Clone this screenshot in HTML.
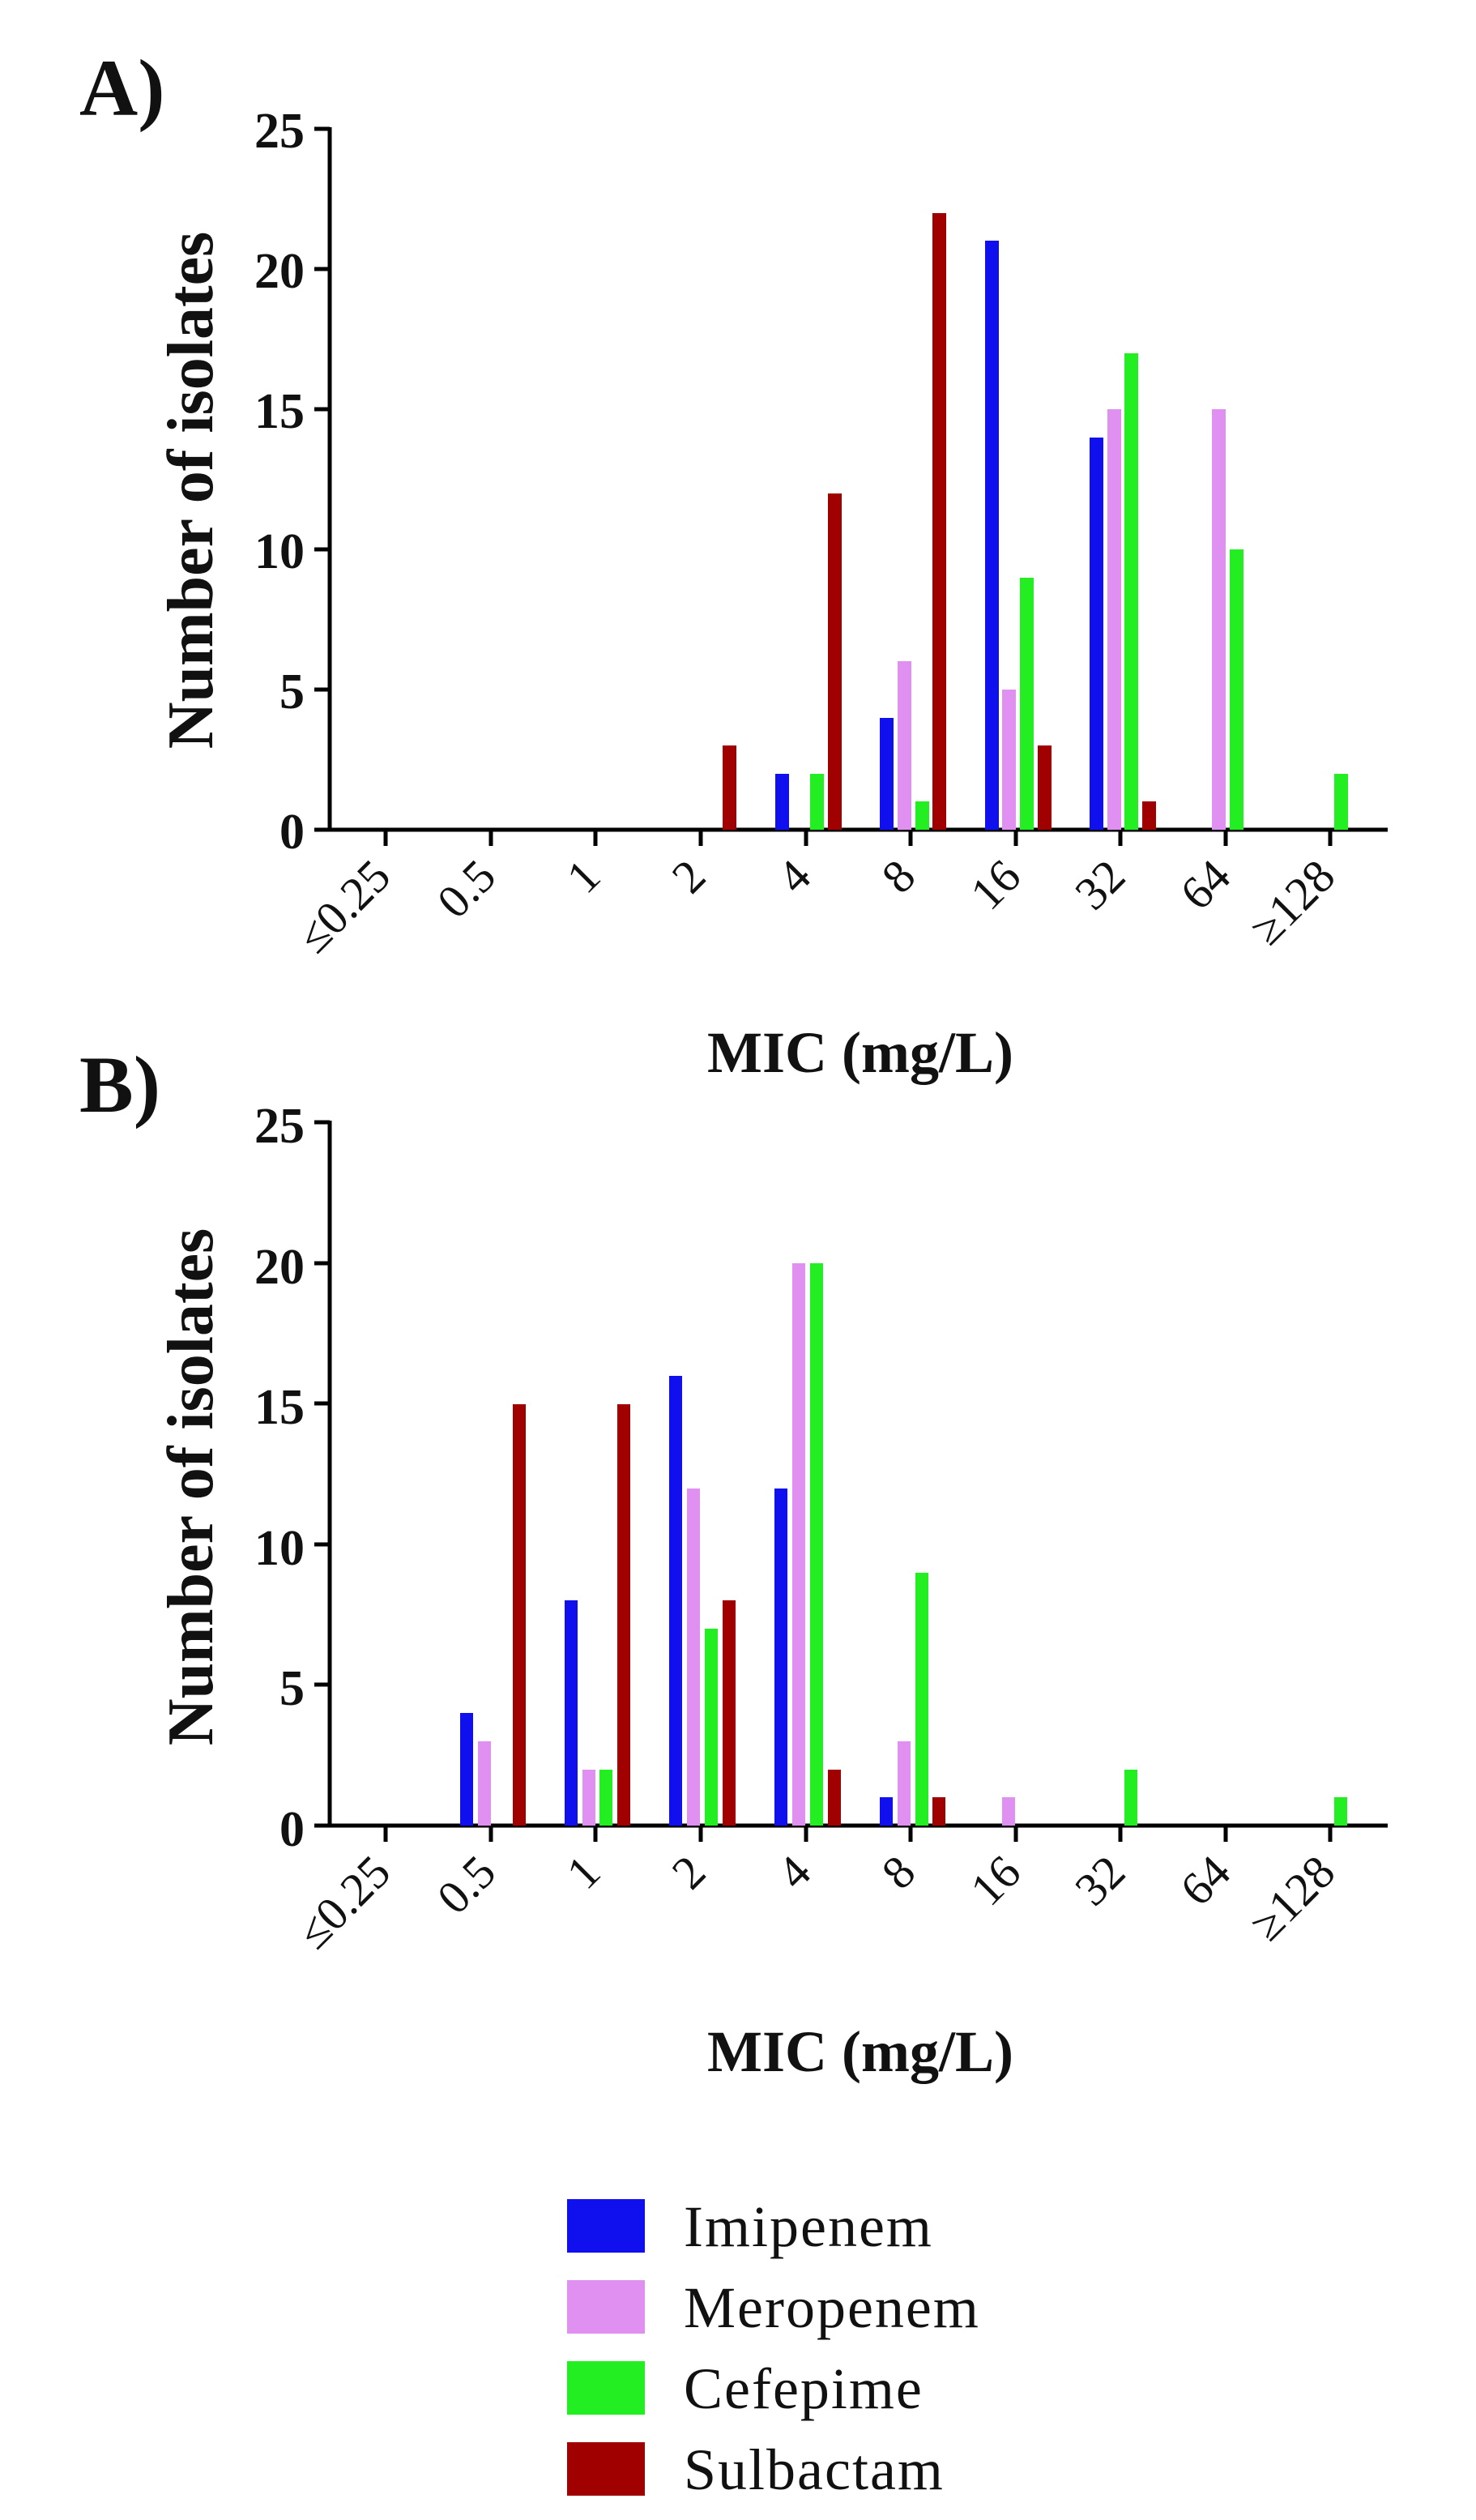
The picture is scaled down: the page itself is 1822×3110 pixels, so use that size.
<!DOCTYPE html>
<html><head><meta charset="utf-8"><style>
html,body{margin:0;padding:0;background:#fff;}
svg{display:block;}
text{font-family:"Liberation Serif",serif;fill:#111;}
</style></head><body>
<svg width="1822" height="3110" viewBox="0 0 1822 3110" xmlns="http://www.w3.org/2000/svg">
<g id="A">
<text x="98" y="142" font-size="100" font-weight="bold">A)</text>
<text transform="translate(262,605) rotate(-90)" text-anchor="middle" font-size="80" font-weight="bold">Number of isolates</text>
<g font-size="62" font-weight="bold" text-anchor="end">
<text x="376" y="182">25</text><text x="376" y="355">20</text><text x="376" y="528">15</text><text x="376" y="701">10</text><text x="376" y="874">5</text><text x="376" y="1047">0</text>
</g>
<g stroke="#000" stroke-width="5">
<line x1="407" y1="157" x2="407" y2="1026"/>
<line x1="388" y1="159" x2="407" y2="159"/><line x1="388" y1="332" x2="407" y2="332"/><line x1="388" y1="505" x2="407" y2="505"/><line x1="388" y1="678" x2="407" y2="678"/><line x1="388" y1="851" x2="407" y2="851"/><line x1="388" y1="1024" x2="407" y2="1024"/>
<line x1="405" y1="1024" x2="1713" y2="1024"/>
<line x1="476" y1="1024" x2="476" y2="1044"/><line x1="606" y1="1024" x2="606" y2="1044"/><line x1="735" y1="1024" x2="735" y2="1044"/><line x1="865" y1="1024" x2="865" y2="1044"/><line x1="995" y1="1024" x2="995" y2="1044"/><line x1="1124" y1="1024" x2="1124" y2="1044"/><line x1="1254" y1="1024" x2="1254" y2="1044"/><line x1="1383" y1="1024" x2="1383" y2="1044"/><line x1="1513" y1="1024" x2="1513" y2="1044"/><line x1="1642" y1="1024" x2="1642" y2="1044"/>
</g>
<g font-size="58" text-anchor="end">
<text transform="translate(485,1085) rotate(-45)">≤0.25</text>
<text transform="translate(615,1085) rotate(-45)">0.5</text>
<text transform="translate(744,1085) rotate(-45)">1</text>
<text transform="translate(874,1085) rotate(-45)">2</text>
<text transform="translate(1004,1085) rotate(-45)">4</text>
<text transform="translate(1133,1085) rotate(-45)">8</text>
<text transform="translate(1263,1085) rotate(-45)">16</text>
<text transform="translate(1392,1085) rotate(-45)">32</text>
<text transform="translate(1522,1085) rotate(-45)">64</text>
<text transform="translate(1651,1085) rotate(-45)">≥128</text>
</g>
<text x="1062" y="1323" text-anchor="middle" font-size="72" font-weight="bold">MIC (mg/L)</text>
<g>
<rect x="892" y="920" width="17" height="104" fill="#a00000"/>
<rect x="957" y="955" width="17" height="69" fill="#1010ee"/>
<rect x="1000" y="955" width="17" height="69" fill="#22ee22"/>
<rect x="1022" y="609" width="17" height="415" fill="#a00000"/>
<rect x="1086" y="886" width="17" height="138" fill="#1010ee"/>
<rect x="1108" y="816" width="17" height="208" fill="#e090f0"/>
<rect x="1130" y="989" width="17" height="35" fill="#22ee22"/>
<rect x="1151" y="263" width="17" height="761" fill="#a00000"/>
<rect x="1216" y="297" width="17" height="727" fill="#1010ee"/>
<rect x="1237" y="851" width="17" height="173" fill="#e090f0"/>
<rect x="1259" y="713" width="17" height="311" fill="#22ee22"/>
<rect x="1281" y="920" width="17" height="104" fill="#a00000"/>
<rect x="1345" y="540" width="17" height="484" fill="#1010ee"/>
<rect x="1367" y="505" width="17" height="519" fill="#e090f0"/>
<rect x="1388" y="436" width="17" height="588" fill="#22ee22"/>
<rect x="1410" y="989" width="17" height="35" fill="#a00000"/>
<rect x="1496" y="505" width="17" height="519" fill="#e090f0"/>
<rect x="1518" y="678" width="17" height="346" fill="#22ee22"/>
<rect x="1647" y="955" width="17" height="69" fill="#22ee22"/>
</g>
</g>

<g id="B">
<text x="98" y="1372" font-size="100" font-weight="bold">B)</text>
<text transform="translate(262,1835) rotate(-90)" text-anchor="middle" font-size="80" font-weight="bold">Number of isolates</text>
<g font-size="62" font-weight="bold" text-anchor="end">
<text x="376" y="1410">25</text><text x="376" y="1584">20</text><text x="376" y="1757">15</text><text x="376" y="1931">10</text><text x="376" y="2104">5</text><text x="376" y="2278">0</text>
</g>
<g stroke="#000" stroke-width="5">
<line x1="407" y1="1383" x2="407" y2="2255"/>
<line x1="388" y1="1385" x2="407" y2="1385"/><line x1="388" y1="1559" x2="407" y2="1559"/><line x1="388" y1="1732" x2="407" y2="1732"/><line x1="388" y1="1906" x2="407" y2="1906"/><line x1="388" y1="2079" x2="407" y2="2079"/><line x1="388" y1="2253" x2="407" y2="2253"/>
<line x1="405" y1="2253" x2="1713" y2="2253"/>
<line x1="476" y1="2253" x2="476" y2="2273"/><line x1="606" y1="2253" x2="606" y2="2273"/><line x1="735" y1="2253" x2="735" y2="2273"/><line x1="865" y1="2253" x2="865" y2="2273"/><line x1="995" y1="2253" x2="995" y2="2273"/><line x1="1124" y1="2253" x2="1124" y2="2273"/><line x1="1254" y1="2253" x2="1254" y2="2273"/><line x1="1383" y1="2253" x2="1383" y2="2273"/><line x1="1513" y1="2253" x2="1513" y2="2273"/><line x1="1642" y1="2253" x2="1642" y2="2273"/>
</g>
<g font-size="58" text-anchor="end">
<text transform="translate(485,2314) rotate(-45)">≤0.25</text>
<text transform="translate(615,2314) rotate(-45)">0.5</text>
<text transform="translate(744,2314) rotate(-45)">1</text>
<text transform="translate(874,2314) rotate(-45)">2</text>
<text transform="translate(1004,2314) rotate(-45)">4</text>
<text transform="translate(1133,2314) rotate(-45)">8</text>
<text transform="translate(1263,2314) rotate(-45)">16</text>
<text transform="translate(1392,2314) rotate(-45)">32</text>
<text transform="translate(1522,2314) rotate(-45)">64</text>
<text transform="translate(1651,2314) rotate(-45)">≥128</text>
</g>
<text x="1062" y="2556" text-anchor="middle" font-size="72" font-weight="bold">MIC (mg/L)</text>
<g>
<rect x="568" y="2114" width="16" height="139" fill="#1010ee"/>
<rect x="590" y="2149" width="16" height="104" fill="#e090f0"/>
<rect x="633" y="1733" width="16" height="520" fill="#a00000"/>
<rect x="697" y="1975" width="16" height="278" fill="#1010ee"/>
<rect x="719" y="2184" width="16" height="69" fill="#e090f0"/>
<rect x="740" y="2184" width="16" height="69" fill="#22ee22"/>
<rect x="762" y="1733" width="16" height="520" fill="#a00000"/>
<rect x="826" y="1698" width="16" height="555" fill="#1010ee"/>
<rect x="848" y="1837" width="16" height="416" fill="#e090f0"/>
<rect x="870" y="2010" width="16" height="243" fill="#22ee22"/>
<rect x="892" y="1975" width="16" height="278" fill="#a00000"/>
<rect x="956" y="1837" width="16" height="416" fill="#1010ee"/>
<rect x="978" y="1559" width="16" height="694" fill="#e090f0"/>
<rect x="1000" y="1559" width="16" height="694" fill="#22ee22"/>
<rect x="1022" y="2184" width="16" height="69" fill="#a00000"/>
<rect x="1086" y="2218" width="16" height="35" fill="#1010ee"/>
<rect x="1108" y="2149" width="16" height="104" fill="#e090f0"/>
<rect x="1130" y="1941" width="16" height="312" fill="#22ee22"/>
<rect x="1151" y="2218" width="16" height="35" fill="#a00000"/>
<rect x="1237" y="2218" width="16" height="35" fill="#e090f0"/>
<rect x="1388" y="2184" width="16" height="69" fill="#22ee22"/>
<rect x="1647" y="2218" width="16" height="35" fill="#22ee22"/>
</g>
</g>

<g id="legend" font-size="72" letter-spacing="2">
<rect x="700" y="2714" width="96" height="66" fill="#1010ee"/>
<text x="844" y="2772">Imipenem</text>
<rect x="700" y="2814" width="96" height="66" fill="#e090f0"/>
<text x="844" y="2872">Meropenem</text>
<rect x="700" y="2914" width="96" height="66" fill="#22ee22"/>
<text x="844" y="2972">Cefepime</text>
<rect x="700" y="3014" width="96" height="66" fill="#a00000"/>
<text x="844" y="3072">Sulbactam</text>
</g>
</svg>
</body></html>
